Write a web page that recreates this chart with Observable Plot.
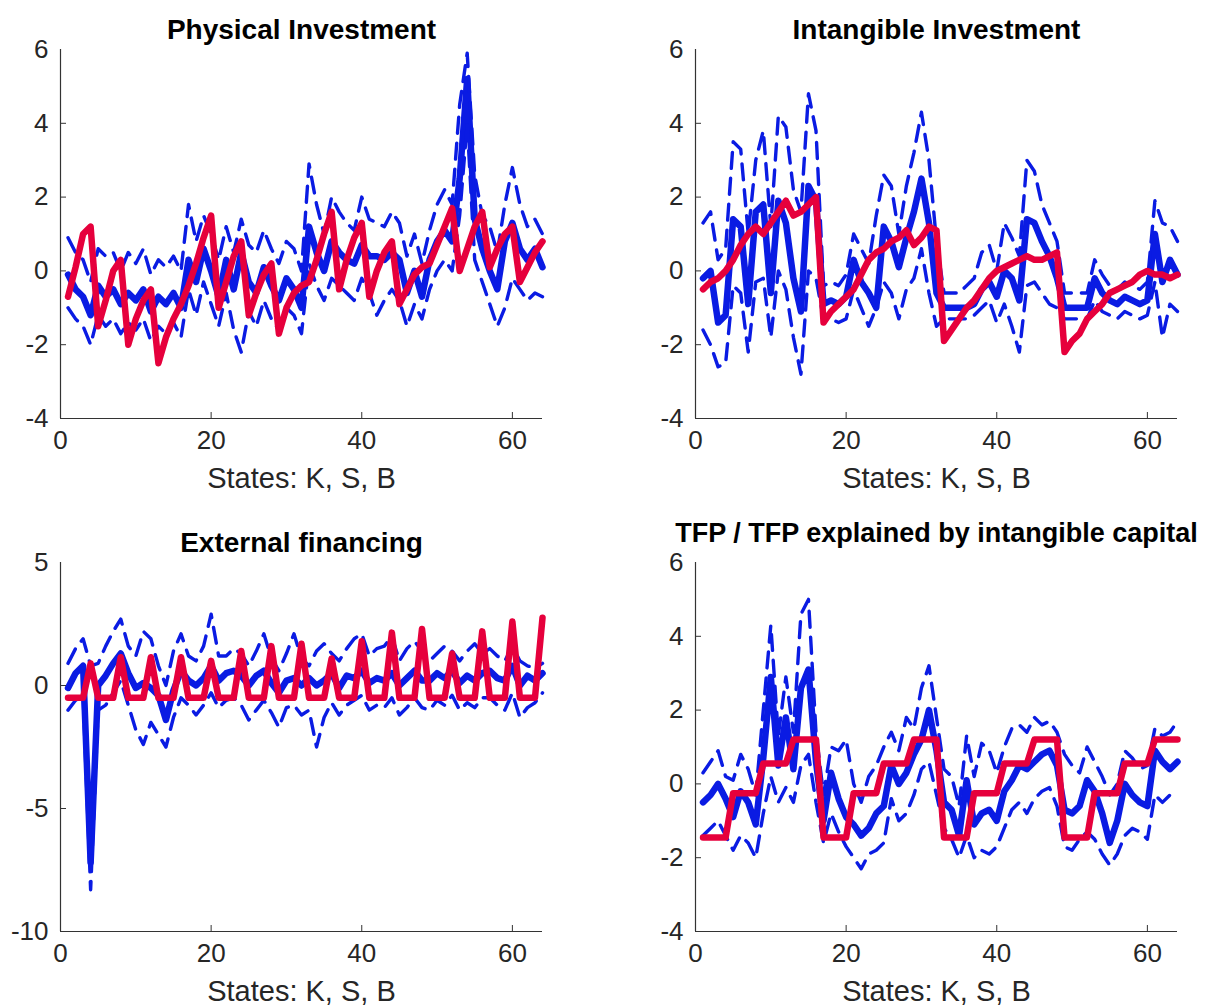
<!DOCTYPE html>
<html><head><meta charset="utf-8">
<script src="https://cdn.jsdelivr.net/npm/d3@7"></script>
<script src="https://cdn.jsdelivr.net/npm/@observablehq/plot@0.6"></script>
<style>
html,body{margin:0;padding:0;background:#fff;overflow:hidden}
#root{position:relative;width:1213px;height:1006px;font-family:"Liberation Sans",Arial,Helvetica,sans-serif}
.panel{position:absolute}
</style></head><body><div id="root"></div>
<script>
const states = [1,2,3,4,5,6,7,8,9,10,11,12,13,14,15,16,17,18,19,20,21,22,23,24,25,26,27,28,29,30,31,32,
  33,34,35,36,37,38,39,40,41,42,43,44,45,46,47,48,49,50,51,52,53,54,55,56,57,58,59,60,61,62,63,64];
const xTickValues = [0, 20, 40, 60];
const xLabel = "States: K, S, B";

// Physical Investment
const physBlue = [-0.1,-0.5,-0.7,-1.2,-0.4,-0.7,-0.5,-0.9,-0.6,-0.8,-0.5,-1.1,-0.7,-0.9,-0.6,-1.0,
  0.3,-0.3,0.6,0.0,-0.7,0.3,-0.5,0.5,-0.3,-0.6,0.1,-0.4,-0.8,-0.2,-0.5,-1.0,
  1.2,0.5,0.0,0.8,0.5,0.3,0.2,0.7,0.4,0.4,0.3,0.5,0.3,-0.6,0.0,-0.7,
  0.3,0.8,1.1,0.8,2.5,5.2,1.4,0.6,0.0,-0.5,0.8,1.3,0.6,0.3,0.6,0.1];
const physUpper = [0.9,0.5,0.3,-0.3,0.6,0.4,0.5,0.0,0.5,0.2,0.6,-0.1,0.3,0.1,0.4,0.0,
  1.8,0.8,1.5,1.0,0.3,1.2,0.5,1.4,0.7,0.5,1.1,0.6,0.2,0.8,0.6,0.0,
  2.9,1.8,1.0,2.0,1.6,1.3,1.1,2.0,1.4,1.3,1.2,1.6,1.3,0.4,1.0,0.2,
  1.1,1.8,2.2,1.8,4.5,5.9,2.6,1.5,1.2,0.5,1.8,2.8,1.8,1.2,1.4,1.0];
const physLower = [-1.0,-1.3,-1.5,-2.0,-1.2,-1.5,-1.3,-1.7,-1.4,-1.6,-1.3,-1.9,-1.5,-1.7,-1.4,-1.8,
  -0.5,-1.2,-0.3,-0.9,-1.5,-0.6,-1.6,-2.2,-1.1,-1.5,-0.8,-1.3,-1.6,-1.0,-1.2,-1.7,
  0.2,-0.4,-0.8,-0.2,-0.4,-0.6,-0.8,-0.2,-0.6,-1.2,-0.8,-0.5,-0.8,-1.5,-0.9,-1.3,
  -0.5,0.0,0.3,0.0,1.5,4.0,0.3,-0.3,-0.9,-1.5,-1.0,-0.2,-0.5,-0.8,-0.6,-0.7];
const physRed = [-0.7,0.1,1.0,1.2,-1.5,-0.8,0.0,0.3,-2.0,-1.3,-0.8,-0.5,-2.5,-1.8,-1.3,-0.9,
  -0.4,0.2,0.9,1.5,-1.0,-0.3,0.4,0.8,-1.2,-0.6,-0.1,0.2,-1.7,-1.0,-0.6,-0.4,
  -0.3,0.3,1.0,1.6,-0.5,0.3,0.9,1.3,-0.7,0.0,0.5,0.8,-0.9,-0.5,-0.1,0.1,
  0.2,0.7,1.2,1.7,0.0,0.6,1.2,1.6,0.1,0.6,1.0,1.2,-0.3,0.1,0.5,0.8];

// Intangible Investment
const intBlue = [-0.2,0.0,-1.4,-1.2,1.4,1.2,-0.9,1.6,1.8,-0.6,1.9,1.3,-0.2,-1.1,2.3,1.9,
  -0.9,-0.8,-0.9,-0.7,0.3,-0.3,-0.6,-1.0,1.2,0.8,0.1,0.9,1.6,2.5,1.3,-0.6,
  -1.0,-1.0,-1.0,-1.0,-0.9,-0.5,-0.3,-0.7,0.0,-0.2,-0.8,1.4,1.3,0.8,0.4,-0.2,
  -1.0,-1.0,-1.0,-1.0,-0.2,-0.6,-0.8,-0.9,-0.7,-0.8,-0.9,-0.8,1.0,-0.3,0.3,-0.1];
const intUpper = [1.3,1.6,0.3,0.6,3.5,3.3,1.0,3.0,3.8,1.2,4.2,3.9,2.2,1.6,4.8,3.8,
  -0.4,-0.3,-0.4,-0.1,1.0,0.6,0.2,1.5,2.6,2.3,1.0,2.3,3.2,4.3,3.0,0.8,
  -0.6,-0.6,-0.6,-0.4,-0.2,0.5,0.7,0.0,1.3,0.9,0.4,3.0,2.7,1.8,1.3,0.8,
  -0.6,-0.6,-0.6,-0.6,0.3,-0.1,-0.4,-0.5,-0.3,-0.4,-0.5,-0.3,1.9,1.3,1.2,0.8];
const intLower = [-1.6,-2.0,-2.6,-2.5,-0.4,-0.6,-2.2,-0.3,-0.2,-1.8,0.0,-0.5,-1.8,-2.8,0.0,-0.2,
  -1.3,-1.3,-1.4,-1.3,-0.5,-1.0,-1.5,-1.0,-0.3,-0.6,-1.3,-0.5,-0.2,0.6,-0.6,-1.5,
  -1.3,-1.3,-1.3,-1.3,-1.2,-1.0,-0.8,-1.4,-0.9,-1.5,-2.2,-0.4,-0.3,-0.6,-0.9,-1.0,
  -1.3,-1.3,-1.3,-1.3,-0.8,-1.1,-1.2,-1.3,-1.1,-1.2,-1.3,-1.2,-0.3,-1.8,-0.9,-1.1];
const intRed = [-0.5,-0.3,-0.2,0.0,0.3,0.7,1.0,1.2,1.0,1.3,1.6,1.9,1.5,1.6,1.8,2.0,
  -1.4,-1.1,-0.9,-0.7,-0.5,-0.1,0.3,0.5,0.6,0.8,0.9,1.1,0.7,0.9,1.2,1.1,
  -1.9,-1.6,-1.3,-1.0,-0.8,-0.5,-0.2,0.0,0.1,0.2,0.3,0.4,0.3,0.3,0.4,0.5,
  -2.2,-1.9,-1.7,-1.3,-1.1,-0.9,-0.6,-0.5,-0.4,-0.3,-0.1,0.0,-0.1,-0.1,-0.2,-0.1];

// External financing
const extBlue = [-0.1,0.5,0.8,-7.2,0.0,0.4,0.9,1.3,0.5,-0.1,0.1,-0.1,-0.4,-1.4,-0.2,0.6,
  0.2,0.0,0.3,0.8,0.2,0.5,0.6,0.4,0.0,0.4,0.6,0.1,-0.3,0.2,0.3,0.0,
  0.3,0.0,0.2,0.5,-0.1,0.4,0.3,0.6,0.1,0.3,0.2,0.5,0.0,0.3,0.6,0.2,
  0.2,0.5,0.3,0.6,0.1,0.4,0.2,0.5,0.6,0.3,0.2,0.8,0.0,0.4,0.2,0.5];
const extUpper = [0.9,1.5,1.9,0.8,0.9,1.6,2.2,2.7,1.6,1.2,2.2,1.9,0.8,0.0,1.4,2.1,
  1.2,1.0,1.6,2.9,1.2,1.2,1.5,1.3,0.8,1.4,2.1,1.1,0.6,1.3,2.1,1.1,
  0.8,1.4,1.7,1.3,1.0,1.5,1.9,2.1,1.2,1.5,1.6,2.0,1.0,1.5,1.8,1.4,
  1.0,1.3,1.6,1.4,1.0,1.4,1.7,1.3,1.5,1.2,1.0,1.6,1.0,0.8,0.7,0.9];
const extLower = [-1.0,-0.6,-0.4,-8.3,-1.0,-0.8,-0.3,0.2,-0.8,-1.8,-2.4,-1.5,-2.0,-2.5,-1.3,-0.5,
  -0.8,-1.2,-0.8,-0.3,-0.9,-0.6,-0.5,-0.8,-1.4,-1.0,-0.6,-1.1,-1.7,-0.9,-0.8,-1.2,
  -1.0,-2.5,-1.3,-0.7,-1.2,-0.8,-0.6,-0.4,-1.0,-0.8,-0.9,-0.5,-1.2,-0.9,-0.5,-0.9,
  -1.0,-0.6,-0.8,-0.4,-1.0,-0.7,-0.9,-0.5,-0.5,-0.8,-1.0,-0.3,-1.3,-0.9,-0.7,-0.3];
const extRed = [-0.5,-0.5,-0.5,0.9,-0.5,-0.5,-0.5,1.15,-0.5,-0.5,-0.5,1.15,-0.5,-0.5,-0.5,1.15,
  -0.5,-0.5,-0.5,1.0,-0.5,-0.5,-0.5,1.4,-0.5,-0.5,-0.5,1.6,-0.5,-0.5,-0.5,1.7,
  -0.5,-0.5,-0.5,1.1,-0.5,-0.5,-0.5,1.8,-0.5,-0.5,-0.5,2.15,-0.5,-0.5,-0.5,2.3,
  -0.5,-0.5,-0.5,1.3,-0.5,-0.5,-0.5,2.2,-0.5,-0.5,-0.5,2.6,-0.5,-0.5,-0.5,2.75];

// TFP / TFP explained by intangible capital
const tfpBlue = [-0.5,-0.3,0.0,-0.4,-0.9,-0.2,-0.5,-1.1,0.7,2.9,0.5,1.8,0.4,2.6,3.1,0.6,
  -1.0,0.3,-0.4,-0.9,-1.1,-1.4,-1.2,-0.8,-0.6,0.5,0.0,0.3,0.8,1.2,2.0,0.9,
  -0.5,-0.7,-1.4,0.1,-1.1,-0.8,-0.7,-1.0,-0.2,0.1,0.5,0.4,0.6,0.8,0.9,0.5,
  -0.7,-0.8,-0.6,0.1,-0.2,-0.8,-1.6,-1.0,0.0,-0.3,-0.5,-0.6,0.9,0.6,0.4,0.6];
const tfpUpper = [0.3,0.6,0.9,0.2,0.1,0.8,0.4,-0.3,2.0,4.3,1.3,2.9,1.4,4.6,5.0,1.4,
  -0.3,1.0,0.9,1.2,0.0,-0.5,0.2,0.5,1.0,1.4,0.9,1.8,1.5,2.6,3.2,1.8,
  0.4,0.2,-0.6,1.3,0.2,1.1,0.9,0.3,1.0,1.5,1.6,1.4,1.8,1.6,1.7,1.4,
  0.8,0.5,0.3,1.0,0.6,0.2,-0.3,0.0,0.9,0.7,0.4,0.5,1.5,1.3,1.4,1.7];
const tfpLower = [-1.4,-1.2,-1.0,-1.4,-1.8,-1.4,-1.6,-2.0,-0.8,0.2,-0.5,-0.1,-0.5,0.5,0.8,-0.5,
  -1.6,-0.8,-1.3,-1.7,-2.0,-2.3,-1.9,-1.8,-1.6,-0.4,-1.0,-0.8,-0.3,0.4,0.6,-0.3,
  -1.2,-1.5,-2.0,-1.4,-2.0,-1.8,-1.9,-1.7,-1.2,-0.7,-0.5,-0.8,-0.4,-0.2,-0.1,-0.6,
  -1.7,-1.8,-1.5,-1.3,-1.5,-1.9,-2.2,-1.9,-1.4,-1.2,-1.3,-1.5,-0.3,-0.5,-0.3,-0.4];
const tfpRed = [-1.45,-1.45,-1.45,-1.45,-0.25,-0.25,-0.25,-0.25,0.55,0.55,0.55,0.55,1.2,1.2,1.2,1.2,
  -1.45,-1.45,-1.45,-1.45,-0.25,-0.25,-0.25,-0.25,0.55,0.55,0.55,0.55,1.2,1.2,1.2,1.2,
  -1.45,-1.45,-1.45,-1.45,-0.25,-0.25,-0.25,-0.25,0.55,0.55,0.55,0.55,1.2,1.2,1.2,1.2,
  -1.45,-1.45,-1.45,-1.45,-0.25,-0.25,-0.25,-0.25,0.55,0.55,0.55,0.55,1.2,1.2,1.2,1.2];

const BLUE = "#0a1be3", RED = "#e6003c", AXIS = "#333333", TEXT = "#262626";
const FONT = "'Liberation Sans', Arial, Helvetica, sans-serif";

function panel({title, titleSize = 28, titleDy = -19, blue, upper, lower, red, yDomain, yTicks, left, top}) {
  const W = 578, H = 490, mL = 60, mR = 36, mT = 49, mB = 72;
  const fw = W - mL - mR, fh = H - mT - mB;
  const rows = states.map((s, i) => ({s, blue: blue[i], upper: upper[i], lower: lower[i], red: red[i]}));
  const chart = Plot.plot({
    width: W, height: H,
    marginLeft: mL, marginRight: mR, marginTop: mT, marginBottom: mB,
    style: {fontFamily: FONT, fontSize: "26px", color: TEXT, background: "white", overflow: "visible"},
    x: {domain: [0, 64]},
    y: {domain: yDomain},
    marks: [
      Plot.line(rows, {x: "s", y: "blue", stroke: BLUE, strokeWidth: 6.5, strokeLinejoin: "round"}),
      Plot.line(rows, {x: "s", y: "upper", stroke: BLUE, strokeWidth: 3.4, strokeDasharray: "16,10"}),
      Plot.line(rows, {x: "s", y: "lower", stroke: BLUE, strokeWidth: 3.4, strokeDasharray: "16,10"}),
      Plot.line(rows, {x: "s", y: "red", stroke: RED, strokeWidth: 6.5, strokeLinejoin: "round"}),
      Plot.ruleX([0], {stroke: AXIS, strokeWidth: 1.2}),
      Plot.ruleY([yDomain[0]], {stroke: AXIS, strokeWidth: 1.2}),
      Plot.tickX(xTickValues.filter(d => d > 0), {x: d => d, stroke: AXIS, insetTop: fh - 6}),
      Plot.tickY(yTicks.filter(d => d > yDomain[0] && d < yDomain[1]), {y: d => d, stroke: AXIS, insetRight: fw - 6}),
      Plot.axisX({ticks: xTickValues, tickSize: 0, tickPadding: 12, label: null, tickFormat: d => String(d), fontSize: 26, fill: TEXT}),
      Plot.axisY({ticks: yTicks, tickSize: 0, tickPadding: 12, label: null, tickFormat: d => String(d), fontSize: 26, fill: TEXT}),
      Plot.text([title], {text: d => d, frameAnchor: "top", lineAnchor: "middle", dy: titleDy, fontWeight: "bold", fontSize: titleSize, fill: "#000"}),
      Plot.text([xLabel], {text: d => d, frameAnchor: "bottom", lineAnchor: "middle", dy: 60, fontSize: 29, fill: TEXT})
    ]
  });
  chart.classList.add("panel");
  chart.style.left = left + "px";
  chart.style.top = top + "px";
  document.getElementById("root").appendChild(chart);
}

panel({title: "Physical Investment", blue: physBlue, upper: physUpper, lower: physLower, red: physRed,
  yDomain: [-4, 6], yTicks: [-4, -2, 0, 2, 4, 6], left: 0, top: 0});
panel({title: "Intangible Investment", blue: intBlue, upper: intUpper, lower: intLower, red: intRed,
  yDomain: [-4, 6], yTicks: [-4, -2, 0, 2, 4, 6], left: 635, top: 0});
panel({title: "External financing", blue: extBlue, upper: extUpper, lower: extLower, red: extRed,
  yDomain: [-10, 5], yTicks: [-10, -5, 0, 5], left: 0, top: 513});
panel({title: "TFP / TFP explained by intangible capital", titleSize: 27, titleDy: -29,
  blue: tfpBlue, upper: tfpUpper, lower: tfpLower, red: tfpRed,
  yDomain: [-4, 6], yTicks: [-4, -2, 0, 2, 4, 6], left: 635, top: 513});
</script></body></html>
